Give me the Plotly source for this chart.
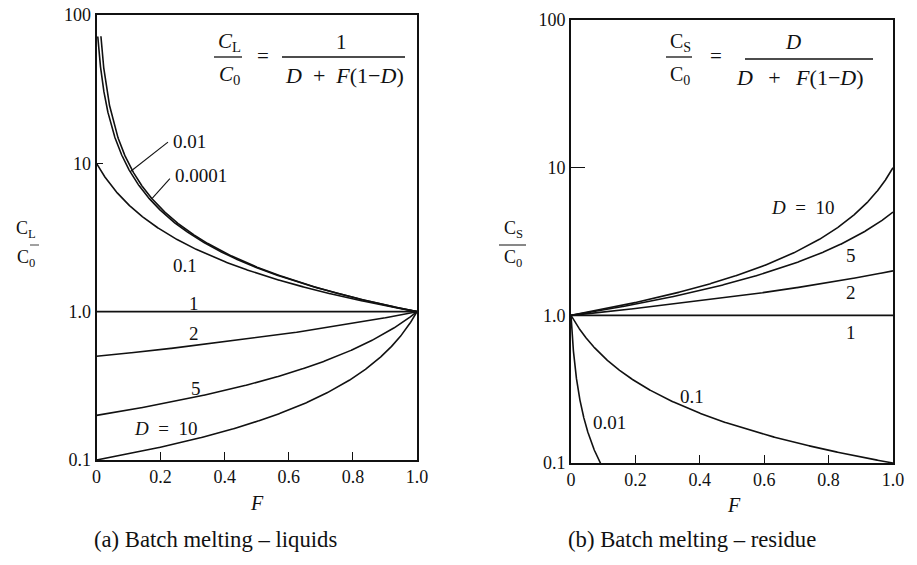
import numpy as np
import plotly.graph_objects as go

# Partition coefficients D for each curve
d_liquid = [0.0001, 0.01, 0.1, 1, 2, 5, 10]
d_residue = [0.01, 0.1, 1, 2, 5, 10]

# Melt fraction F sampled across the axis (denser near F = 0)
F = np.concatenate([np.linspace(0.0, 0.05, 501), np.linspace(0.05, 1.0, 951)[1:]])

y_ticks = [0.1, 1, 10, 100]
y_ticktext = ["0.1", "1.0", "10", "100"]
x_ticks = [0, 0.2, 0.4, 0.6, 0.8, 1.0]
x_ticktext = ["0", "0.2", "0.4", "0.6", "0.8", "1.0"]

W, H = 917, 565
SERIF = "Liberation Serif"
INK = "#111111"


def px(x):
    return x / W


def py(y):
    return 1 - y / H


def liquid(D, f):
    return 1.0 / (D + f * (1.0 - D))


def residue(D, f):
    return D / (D + f * (1.0 - D))


fig = go.Figure()

for D in d_liquid:
    c = liquid(D, F)
    keep = c <= 72
    fig.add_trace(go.Scatter(x=F[keep], y=c[keep], mode="lines",
                             line=dict(color=INK, width=1.6),
                             xaxis="x", yaxis="y", showlegend=False,
                             hoverinfo="skip"))

for D in d_residue:
    fig.add_trace(go.Scatter(x=F, y=residue(D, F), mode="lines",
                             line=dict(color=INK, width=1.6),
                             xaxis="x2", yaxis="y2", showlegend=False,
                             hoverinfo="skip"))

axis_common = dict(showline=True, linecolor=INK, linewidth=1.6, mirror=True,
                   ticks="inside", tickcolor=INK, tickwidth=1.4,
                   showgrid=False, zeroline=False, automargin=False,
                   tickfont=dict(family=SERIF, size=18, color=INK))

fig.update_layout(
    template="none",
    width=W, height=H,
    margin=dict(l=0, r=0, t=0, b=0, pad=0),
    paper_bgcolor="white", plot_bgcolor="white",
    xaxis=dict(domain=[px(96.5), px(417)], range=[0, 1],
               tickvals=x_ticks, ticktext=x_ticktext, ticklen=8,
               anchor="y", **axis_common),
    yaxis=dict(domain=[py(460), py(15)], type="log", range=[-1, 2],
               tickvals=y_ticks, ticktext=y_ticktext, ticklen=7,
               anchor="x", **axis_common),
    xaxis2=dict(domain=[px(571), px(893)], range=[0, 1],
                tickvals=x_ticks, ticktext=x_ticktext, ticklen=8,
                anchor="y2", **axis_common),
    yaxis2=dict(domain=[py(463), py(20)], type="log", range=[-1, 2],
                tickvals=y_ticks, ticktext=y_ticktext, ticklen=14,
                anchor="x2", **axis_common),
)

annotations = []
shapes = []


def text(x, y, s, size=19, ref=("paper", "paper")):
    annotations.append(dict(x=x, y=y, xref=ref[0], yref=ref[1], text=s,
                            showarrow=False, xanchor="center",
                            yanchor="middle",
                            font=dict(family=SERIF, size=size, color=INK)))


def hline(x0, x1, y, width=1.3):
    shapes.append(dict(type="line", xref="paper", yref="paper",
                       x0=px(x0), x1=px(x1), y0=py(y), y1=py(y),
                       line=dict(color=INK, width=width)))


EN = "\u2002"
TH = "\u2009"

# Axis titles
text(px(257), py(503), "<i>F</i>", size=20)
text(px(734), py(505), "<i>F</i>", size=20)

# Left y-axis title as a fraction
text(px(26), py(229), "C<sub>L</sub>", size=18)
text(px(26), py(258), "C<sub>0</sub>", size=18)
hline(30, 39, 245, width=0.8)
# Right y-axis title
text(px(513), py(229), "C<sub>S</sub>", size=18)
text(px(513), py(258), "C<sub>0</sub>", size=18)
hline(499, 526, 245, width=1.0)

# Left formula
text(px(229), py(42), "<i>C</i><sub>L</sub>", size=21)
text(px(229), py(75), "<i>C</i><sub>0</sub>", size=21)
hline(214, 242, 57)
text(px(263), py(56), "=", size=21)
text(px(341), py(42), "1", size=21)
hline(282, 405, 57)
text(px(344), py(76), "<i>D</i>" + EN + "+" + EN + "<i>F</i>(1\u2212<i>D</i>)", size=22)

# Right formula
text(px(680), py(42), "C<sub>S</sub>", size=20)
text(px(680), py(76), "C<sub>0</sub>", size=20)
hline(666, 692, 57)
text(px(716), py(56), "=", size=21)
text(px(793), py(42), "<i>D</i>", size=21)
hline(745, 873, 59)
text(px(800), py(77), "<i>D</i>" + EN + TH + "+" + EN + TH + "<i>F</i>(1\u2212<i>D</i>)", size=22)

# Captions
text(px(215), py(539), "(a) Batch melting \u2013 liquids", size=22.7)
text(px(692), py(539), "(b) Batch melting \u2013 residue", size=22.7)

# Curve labels, left panel (data coordinates; y given as log10)
L = ("x", "y")
text(0.29, np.log10(14.0), "0.01", ref=L)
text(0.325, np.log10(8.3), "0.0001", ref=L)
text(0.275, np.log10(2.05), "0.1", ref=L)
text(0.305, np.log10(1.13), "1", ref=L)
text(0.305, np.log10(0.71), "2", ref=L)
text(0.31, np.log10(0.305), "5", ref=L)
text(0.215, np.log10(0.162), "<i>D</i>" + EN + "=" + EN + "10", ref=L)

# Leader lines from labels to the low-D curves (shape coordinates use data values)
for f0, D, lx, ly in [(0.105, 0.01, 0.223, 13.9), (0.173, 0.0001, 0.229, 7.9)]:
    shapes.append(dict(type="line", xref="x", yref="y",
                       x0=f0, y0=liquid(D, f0), x1=lx, y1=ly,
                       line=dict(color=INK, width=1.1)))

# Curve labels, right panel
R = ("x2", "y2")
text(0.72, np.log10(5.4), "<i>D</i>" + EN + "=" + EN + "10", ref=R)
text(0.87, np.log10(2.55), "5", ref=R)
text(0.87, np.log10(1.42), "2", ref=R)
text(0.87, np.log10(0.77), "1", ref=R)
text(0.375, np.log10(0.28), "0.1", ref=R)
text(0.121, np.log10(0.187), "0.01", ref=R)

fig.update_layout(annotations=annotations, shapes=shapes)

fig.write_html("out.html")
